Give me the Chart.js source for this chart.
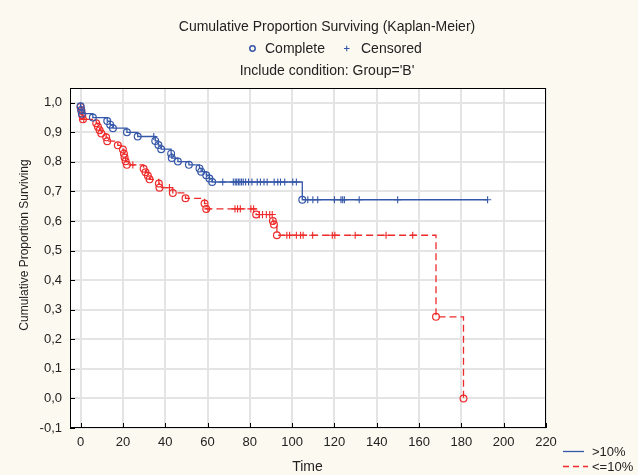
<!DOCTYPE html>
<html><head><meta charset="utf-8">
<script src="https://cdn.jsdelivr.net/npm/chart.js@4"></script>
<style>html,body{margin:0;padding:0;background:#fcf9f1}canvas{display:block}</style>
</head><body>
<canvas id="c" width="638" height="475"></canvas>
<script>
// ---- data ----
const xTicks = [0, 20, 40, 60, 80, 100, 120, 140, 160, 180, 200, 220];
const yTicks = [-0.1, 0.0, 0.1, 0.2, 0.3, 0.4, 0.5, 0.6, 0.7, 0.8, 0.9, 1.0];

// group ">10%" (blue, solid)
const blueEventT = [0, 0.3, 0.6, 5.8, 12.6, 14.0, 15.3, 21.9, 27.0, 35.3, 36.8, 38.1, 42.8, 43.1, 46.0, 51.2, 56.2, 57.0, 59.4, 60.9, 62.2, 104.8];
const blueEventS = [0.988, 0.976, 0.963, 0.950, 0.938, 0.926, 0.914, 0.900, 0.886, 0.871, 0.857, 0.843, 0.828, 0.813, 0.801, 0.790, 0.778, 0.767, 0.755, 0.744, 0.732, 0.672];
const blueCensT = [34.6, 67.2, 72.2, 73.1, 73.8, 74.6, 75.3, 76.1, 76.9, 78.0, 79.4, 81.0, 83.5, 85.0, 86.7, 88.2, 91.5, 93.2, 94.5, 96.5, 100.3, 102.0, 107.4, 109.8, 112.1, 120.0, 123.1, 123.9, 124.7, 131.7, 149.9, 192.4];
const blueCensS = [0.886, 0.732, 0.732, 0.732, 0.732, 0.732, 0.732, 0.732, 0.732, 0.732, 0.732, 0.732, 0.732, 0.732, 0.732, 0.732, 0.732, 0.732, 0.732, 0.732, 0.732, 0.732, 0.672, 0.672, 0.672, 0.672, 0.672, 0.672, 0.672, 0.672, 0.672, 0.672];

// group "<=10%" (red, dashed)
const redEventT = [0, 0.4, 0.8, 1.1, 7.4, 8.2, 9.0, 9.8, 12.1, 12.6, 17.6, 20.0, 20.5, 20.8, 21.3, 21.9, 29.8, 30.7, 31.8, 32.6, 37.0, 37.3, 43.6, 49.6, 58.6, 59.4, 83.0, 90.9, 91.4, 92.8, 168.0, 181.0];
const redEventS = [0.986, 0.972, 0.958, 0.944, 0.931, 0.919, 0.907, 0.896, 0.883, 0.870, 0.856, 0.842, 0.828, 0.815, 0.802, 0.790, 0.777, 0.765, 0.753, 0.741, 0.727, 0.713, 0.695, 0.677, 0.659, 0.641, 0.622, 0.600, 0.588, 0.552, 0.276, 0.000];
const redCensT = [1.5, 24.7, 42.0, 60.2, 73.0, 74.2, 75.5, 80.5, 81.8, 84.5, 86.0, 87.8, 89.4, 90.6, 97.5, 98.8, 102.0, 104.0, 105.2, 109.7, 119.0, 120.2, 129.8, 144.4, 157.0];
const redCensS = [0.944, 0.790, 0.713, 0.641, 0.641, 0.641, 0.641, 0.641, 0.641, 0.622, 0.622, 0.622, 0.622, 0.622, 0.552, 0.552, 0.552, 0.552, 0.552, 0.552, 0.552, 0.552, 0.552, 0.552, 0.552];

const seriesNames = ['>10%', '<=10%'];
const titleText = 'Cumulative Proportion Surviving (Kaplan-Meier)';
const subText = "Include condition: Group='B'";
const markerNames = ['Complete', 'Censored'];
const xTitle = 'Time';
const yTitle = 'Cumulative Proportion Surviving';

// ---- build ----
const BLUE = '#3557a8', RED = '#ee2b2b', TXT = '#222222';
const pts = (T, S) => T.map((t, i) => ({x: t, y: S[i]}));
function kmLine(eT, eS, cT, cS) {
  const all = pts(eT, eS).concat(pts(cT, cS)).sort((a, b) => a.x - b.x);
  return [{x: 0, y: 1}].concat(all);
}
const FONT = '"Liberation Sans", Arial, sans-serif';
Chart.defaults.font.family = FONT;
Chart.defaults.font.size = 13;
Chart.defaults.color = TXT;

const deco = {
  id: 'deco',
  beforeDraw(chart) {
    const {ctx, chartArea: a} = chart;
    ctx.save();
    ctx.fillStyle = '#fcf9f1';
    ctx.fillRect(0, 0, chart.width, chart.height);
    ctx.fillStyle = '#ffffff';
    ctx.fillRect(a.left, a.top, a.right - a.left, a.bottom - a.top);
    ctx.restore();
  },
  afterDraw(chart) {
    const {ctx, chartArea: a, scales: {x, y}} = chart;
    ctx.save();
    ctx.strokeStyle = '#000'; ctx.lineWidth = 1;
    ctx.strokeRect(a.left + 0.5, a.top + 0.5, a.right - a.left - 1, a.bottom - a.top - 1);
    ctx.beginPath();
    xTicks.forEach(v => { const p = Math.round(x.getPixelForValue(v)) + 0.5; ctx.moveTo(p, a.bottom); ctx.lineTo(p, a.bottom - 5); });
    yTicks.forEach(v => { const p = Math.round(y.getPixelForValue(v)) + 0.5; ctx.moveTo(a.left, p); ctx.lineTo(a.left + 5, p); });
    ctx.stroke();

    ctx.fillStyle = TXT;
    ctx.font = '14px ' + FONT;
    ctx.textBaseline = 'middle';
    ctx.textAlign = 'center';
    ctx.fillText(titleText, 327, 27);
    ctx.fillText(subText, 327, 71.5);
    ctx.fillText(xTitle, 307.5, 467);
    ctx.save();
    ctx.font = '12px ' + FONT;
    ctx.translate(25, 245);
    ctx.rotate(-Math.PI / 2);
    ctx.fillText(yTitle, 0, 0);
    ctx.restore();

    // top marker legend
    ctx.textAlign = 'left';
    ctx.fillText(markerNames[0], 265, 49);
    ctx.fillText(markerNames[1], 361, 49);
    ctx.strokeStyle = BLUE; ctx.lineWidth = 1.5;
    ctx.beginPath(); ctx.arc(252.5, 48.5, 2.7, 0, Math.PI * 2); ctx.stroke();
    ctx.lineWidth = 1.1;
    ctx.beginPath();
    ctx.moveTo(344, 48.5); ctx.lineTo(349.5, 48.5);
    ctx.moveTo(346.7, 45.8); ctx.lineTo(346.7, 51.2);
    ctx.stroke();

    // bottom-right series legend
    ctx.font = '13px ' + FONT;
    ctx.fillStyle = TXT;
    ctx.fillText(seriesNames[0], 592, 452);
    ctx.fillText(seriesNames[1], 592, 467);
    ctx.lineWidth = 1.3;
    ctx.strokeStyle = BLUE;
    ctx.beginPath(); ctx.moveTo(563, 451.5); ctx.lineTo(584, 451.5); ctx.stroke();
    ctx.strokeStyle = RED;
    ctx.setLineDash([6, 4]);
    ctx.beginPath(); ctx.moveTo(563, 466.5); ctx.lineTo(588, 466.5); ctx.stroke();
    ctx.restore();
  }
};

new Chart(document.getElementById('c'), {
  type: 'scatter',
  data: {
    datasets: [
      {label: seriesNames[0], data: kmLine(blueEventT, blueEventS, blueCensT, blueCensS), showLine: true, stepped: 'before',
       borderColor: BLUE, borderWidth: 1.3, pointRadius: 0, fill: false},
      {label: seriesNames[0] + ' complete', data: pts(blueEventT, blueEventS), showLine: false, pointStyle: 'circle',
       pointRadius: 3.4, borderColor: BLUE, backgroundColor: 'rgba(0,0,0,0)', pointBorderWidth: 1.2},
      {label: seriesNames[0] + ' censored', data: pts(blueCensT, blueCensS), showLine: false, pointStyle: 'cross',
       pointRadius: 3.6, borderColor: BLUE, pointBorderWidth: 1.1},
      {label: seriesNames[1], data: kmLine(redEventT, redEventS, redCensT, redCensS), showLine: true, stepped: 'before',
       borderColor: RED, borderWidth: 1.3, borderDash: [7, 4], pointRadius: 0, fill: false},
      {label: seriesNames[1] + ' complete', data: pts(redEventT, redEventS), showLine: false, pointStyle: 'circle',
       pointRadius: 3.4, borderColor: RED, backgroundColor: 'rgba(0,0,0,0)', pointBorderWidth: 1.2},
      {label: seriesNames[1] + ' censored', data: pts(redCensT, redCensS), showLine: false, pointStyle: 'cross',
       pointRadius: 3.6, borderColor: RED, pointBorderWidth: 1.1}
    ]
  },
  options: {
    responsive: false,
    animation: false,
    events: [],
    layout: {padding: {left: 0, top: 88, right: 92, bottom: 0}},
    plugins: {legend: {display: false}, tooltip: {enabled: false}},
    scales: {
      x: {
        type: 'linear', min: -5, max: 220,
        afterBuildTicks: s => { s.ticks = xTicks.map(v => ({value: v})); },
        afterFit: s => { s.height = 47; },
        ticks: {padding: 7, color: TXT, callback: v => String(v)},
        grid: {color: '#e4e4e4', lineWidth: 2, drawTicks: false},
        border: {display: false}
      },
      y: {
        type: 'linear', min: -0.1, max: 1.05,
        afterBuildTicks: s => { s.ticks = yTicks.map(v => ({value: v})); },
        afterFit: s => { s.width = 70; },
        ticks: {padding: 8, color: TXT, callback: v => v.toFixed(1).replace('.', ',')},
        grid: {color: '#e4e4e4', lineWidth: 2, drawTicks: false},
        border: {display: false}
      }
    }
  },
  plugins: [deco]
});
</script>
</body></html>
